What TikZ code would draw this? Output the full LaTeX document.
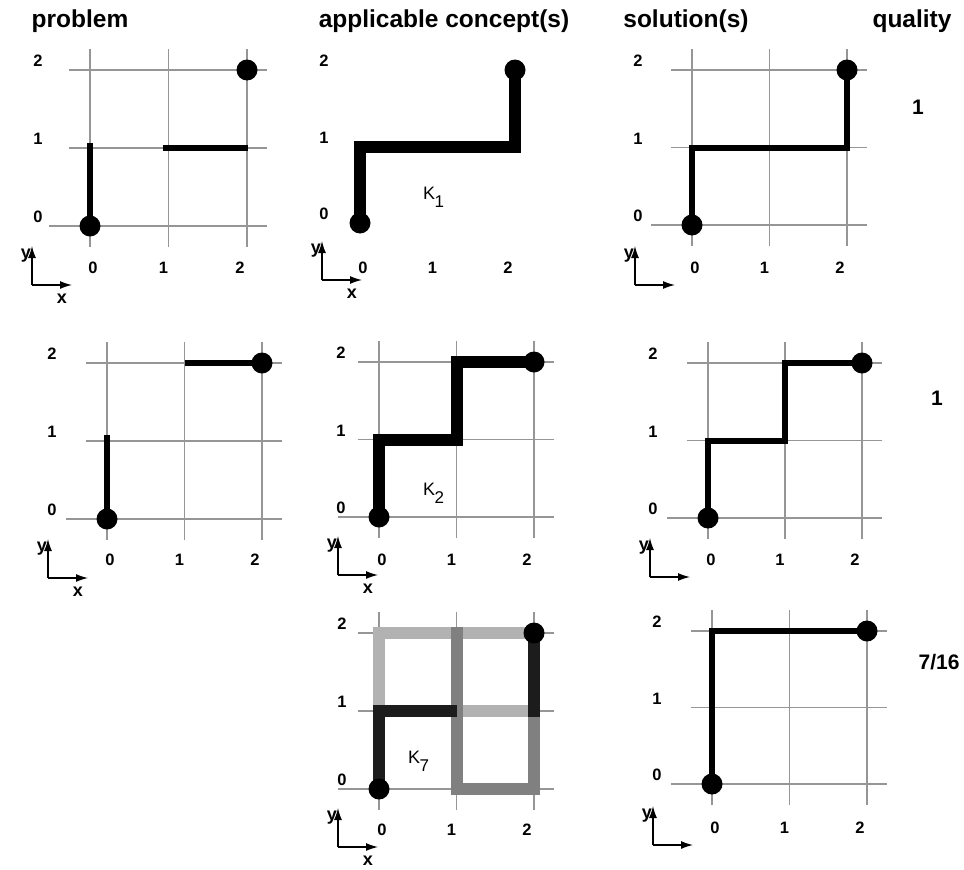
\documentclass[tikz,border=0pt]{standalone}
\usepackage{fontspec}
\setmainfont{Liberation Sans}
\usetikzlibrary{arrows.meta}
\definecolor{gridgray}{RGB}{150,150,150}
\definecolor{kl}{RGB}{178,178,178}
\definecolor{km}{RGB}{128,128,128}
\definecolor{kd}{RGB}{28,28,28}
\newcommand\hdrfont{\fontsize{24.5}{24.5}\selectfont\bfseries}
\newcommand\tickfont{\fontsize{16.5}{16.5}\selectfont\bfseries}
\newcommand\axfont{\fontsize{18}{18}\selectfont\bfseries}
\newcommand\kfont{\fontsize{18}{18}\selectfont}
\newcommand\qfont{\fontsize{21}{21}\selectfont\bfseries}
\tikzset{
  gridline/.style={draw=gridgray, line width=1.1pt},
  probseg/.style={line width=5.5pt, line cap=butt},
  solpath/.style={line width=6pt, line join=miter},
  conpath/.style={line width=12pt, line join=miter},
  dot/.style={circle, fill=black, inner sep=0pt, minimum size=21pt},
  tick/.style={font=\tickfont, inner sep=0pt},
  axlab/.style={font=\axfont, inner sep=0pt},
  hdr/.style={font=\hdrfont, anchor=base, inner sep=0pt},
  qual/.style={font=\qfont, inner sep=0pt},
  klabel/.style={font=\kfont, inner sep=0pt, anchor=base west},
  axarrow/.style={line width=1.3pt, -{Latex[length=12pt,width=8pt]}},
}
\newcommand\gridlines{%
  \draw[gridline] ([xshift=-21pt]0,2) -- ([xshift=20pt]2,2);
  \draw[gridline] ([xshift=-21pt]0,1) -- ([xshift=20pt]2,1);
  \draw[gridline] ([xshift=-41pt]0,0) -- ([xshift=20pt]2,0);
  \foreach \i in {0,1,2}{\draw[gridline] ([yshift=-21pt]\i,0) -- ([yshift=21pt]\i,2);}
}
\newcommand\ticklabels[3]{%
  \node[tick] (#1-y2) at ([xshift=-#2pt,yshift=9pt]0,2) {2};
  \node[tick] (#1-y1) at ([xshift=-#2pt,yshift=9pt]0,1) {1};
  \node[tick] (#1-y0) at ([xshift=-#2pt,yshift=9pt]0,0) {0};
  \node[tick] (#1-x0) at ([xshift=3pt,yshift=-#3pt]0,0) {0};
  \node[tick] (#1-x1) at ([xshift=-5pt,yshift=-#3pt]1,0) {1};
  \node[tick] (#1-x2) at ([xshift=-7pt,yshift=-#3pt]2,0) {2};
}
\newcommand\axicon[4]{%
  \coordinate (#1-o) at (#2,#3);
  \coordinate (#1-ty) at (#2,#3-39);
  \coordinate (#1-tx) at (#2+40,#3);
  \draw[axarrow] (#1-o) -- (#1-ty);
  \draw[axarrow] (#1-o) -- (#1-tx);
  \node[axlab, anchor=east] (#1-ylab) at (#2-1,#3-29) {y};
  \ifnum#4=1 \node[axlab] (#1-xlab) at (#2+30,#3+14) {x};\fi
}
\newcommand\ksub[1]{\kern-0.5pt\raisebox{-8pt}{\fontsize{17}{17}\selectfont #1}}
\begin{document}
\begin{tikzpicture}[x=1pt,y=-1pt]
\useasboundingbox[fill=white] (0,0) rectangle (964,870);

% headers
\node[hdr] (h-problem) at (80,27.5) {problem};
\node[hdr] (h-concept) at (444,27.5) {applicable concept(s)};
\node[hdr] (h-solution) at (686,27.5) {solution(s)};
\node[hdr] (h-quality) at (912,27.5) {quality};

% ---------- row 1: problem ----------
\begin{scope}[shift={(90,226)}, x={(78.5pt,0pt)}, y={(0pt,78pt)}]
  \gridlines
  \ticklabels{pA}{52}{42}
  \coordinate (pA-a) at (0,0);
  \coordinate (pA-b) at ([yshift=5pt]0,1);
  \coordinate (pA-c) at ([xshift=-6pt]1,1);
  \coordinate (pA-d) at ([xshift=1pt]2,1);
  \draw[probseg] (pA-a) -- (pA-b);
  \draw[probseg] (pA-c) -- (pA-d);
  \node[dot] (pA-s) at (0,0) {};
  \node[dot] (pA-e) at (2,2) {};
\end{scope}
\axicon{axA}{32}{285}{1}

% ---------- row 1: concept K1 ----------
\begin{scope}[shift={(360,223)}, x={(77.5pt,0pt)}, y={(0pt,76.5pt)}]
  \ticklabels{cA}{36}{45}
  \coordinate (cA-a) at (0,0);
  \coordinate (cA-b) at (0,1);
  \coordinate (cA-c) at (2,1);
  \coordinate (cA-d) at (2,2);
  \draw[conpath] (cA-a) -- (cA-b) -- (cA-c) -- (cA-d);
  \node[dot] (cA-s) at (cA-a) {};
  \node[dot] (cA-e) at (cA-d) {};
\end{scope}
\node[klabel] (k1) at (423,199) {K\ksub{1}};
\axicon{axB}{322}{280}{1}

% ---------- row 1: solution ----------
\begin{scope}[shift={(692,225)}, x={(77.5pt,0pt)}, y={(0pt,77.5pt)}]
  \gridlines
  \ticklabels{sA}{54}{43}
  \coordinate (sA-a) at (0,0);
  \coordinate (sA-b) at (0,1);
  \coordinate (sA-c) at (2,1);
  \coordinate (sA-d) at (2,2);
  \draw[solpath] (sA-a) -- (sA-b) -- (sA-c) -- (sA-d);
  \node[dot] (sA-s) at (sA-a) {};
  \node[dot] (sA-e) at (sA-d) {};
\end{scope}
\axicon{axC}{635}{285}{0}
\node[qual] (qA) at (918,107) {1};

% ---------- row 2: problem ----------
\begin{scope}[shift={(107,519)}, x={(77.5pt,0pt)}, y={(0pt,78pt)}]
  \gridlines
  \ticklabels{pB}{55}{41}
  \coordinate (pB-a) at (0,0);
  \coordinate (pB-b) at ([yshift=6pt]0,1);
  \coordinate (pB-c) at (1,2);
  \coordinate (pB-d) at (2,2);
  \draw[probseg] (pB-a) -- (pB-b);
  \draw[probseg] (pB-c) -- (pB-d);
  \node[dot] (pB-s) at (0,0) {};
  \node[dot] (pB-e) at (2,2) {};
\end{scope}
\axicon{axD}{48}{578}{1}

% ---------- row 2: concept K2 ----------
\begin{scope}[shift={(379,517)}, x={(77.5pt,0pt)}, y={(0pt,77.5pt)}]
  \gridlines
  \ticklabels{cB}{38}{43}
  \coordinate (cB-a) at (0,0);
  \coordinate (cB-b) at (0,1);
  \coordinate (cB-c) at (1,1);
  \coordinate (cB-d) at (1,2);
  \coordinate (cB-f) at (2,2);
  \draw[conpath] (cB-a) -- (cB-b) -- (cB-c) -- (cB-d) -- (cB-f);
  \node[dot] (cB-s) at (cB-a) {};
  \node[dot] (cB-e) at (cB-f) {};
\end{scope}
\node[klabel] (k2) at (423,495) {K\ksub{2}};
\axicon{axE}{338}{575}{1}

% ---------- row 2: solution ----------
\begin{scope}[shift={(708,518)}, x={(77pt,0pt)}, y={(0pt,77.5pt)}]
  \gridlines
  \ticklabels{sB}{55}{42}
  \coordinate (sB-a) at (0,0);
  \coordinate (sB-b) at (0,1);
  \coordinate (sB-c) at (1,1);
  \coordinate (sB-d) at (1,2);
  \coordinate (sB-f) at (2,2);
  \draw[solpath] (sB-a) -- (sB-b) -- (sB-c) -- (sB-d) -- (sB-f);
  \node[dot] (sB-s) at (sB-a) {};
  \node[dot] (sB-e) at (sB-f) {};
\end{scope}
\axicon{axF}{650}{577}{0}
\node[qual] (qB) at (937,398) {1};

% ---------- row 3: concept K7 ----------
\begin{scope}[shift={(379,789)}, x={(77.5pt,0pt)}, y={(0pt,78pt)}]
  \gridlines
  \ticklabels{cC}{37}{41}
  \coordinate (cC-00) at (0,0);
  \coordinate (cC-01) at (0,1);
  \coordinate (cC-02) at (0,2);
  \coordinate (cC-11) at (1,1);
  \coordinate (cC-10) at (1,0);
  \coordinate (cC-12t) at ([yshift=6pt]1,2);
  \coordinate (cC-20) at (2,0);
  \coordinate (cC-21) at (2,1);
  \coordinate (cC-21b) at ([yshift=-6pt]2,1);
  \coordinate (cC-22) at (2,2);
  \draw[conpath, kl] (cC-01) -- (cC-02) -- (cC-22);
  \draw[conpath, kl] (cC-11) -- (cC-21);
  \draw[conpath, km] (cC-12t) -- (cC-10) -- (cC-20) -- (cC-21b);
  \draw[conpath, kd] (cC-00) -- (cC-01) -- (cC-11);
  \draw[conpath, kd] (cC-21b) -- (cC-22);
  \node[dot] (cC-s) at (cC-00) {};
  \node[dot] (cC-e) at (cC-22) {};
\end{scope}
\node[klabel] (k7) at (408,763) {K\ksub{7}};
\axicon{axG}{338}{847}{1}

% ---------- row 3: solution ----------
\begin{scope}[shift={(712,784)}, x={(77.5pt,0pt)}, y={(0pt,76.5pt)}]
  \gridlines
  \ticklabels{sC}{55}{44}
  \coordinate (sC-a) at (0,0);
  \coordinate (sC-b) at (0,2);
  \coordinate (sC-c) at (2,2);
  \draw[solpath] (sC-a) -- (sC-b) -- (sC-c);
  \node[dot] (sC-s) at (sC-a) {};
  \node[dot] (sC-e) at (sC-c) {};
\end{scope}
\axicon{axH}{653}{845}{0}
\node[qual] (qC) at (939,662) {7/16};
\end{tikzpicture}
\end{document}
